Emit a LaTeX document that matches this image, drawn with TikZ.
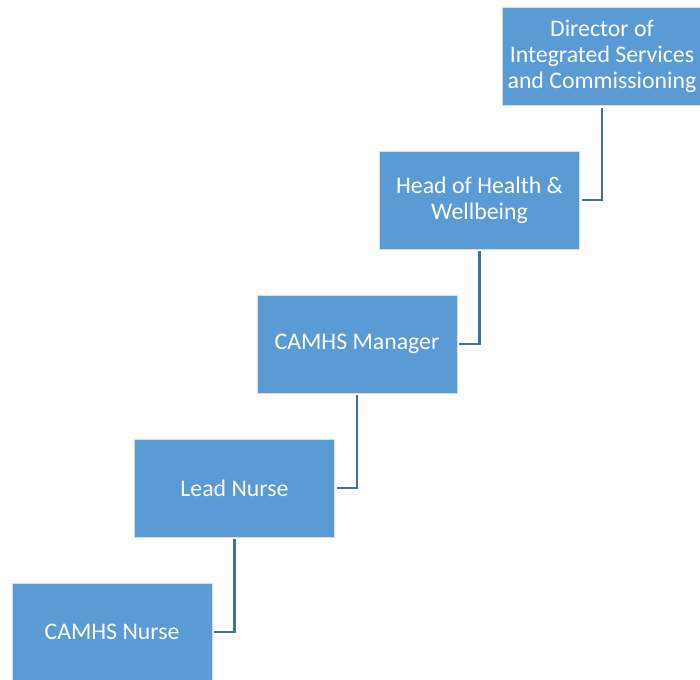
\documentclass[tikz,border=0pt]{standalone}
\usepackage{fontspec}
\setmainfont{Carlito}
\definecolor{boxblue}{HTML}{5B9BD5}
\definecolor{linkblue}{HTML}{41719C}
\begin{document}
\begin{tikzpicture}[x=1pt,y=-1pt,
  rolebox/.style={rectangle, fill=boxblue, draw=white!70!boxblue, line width=0.8pt,
    minimum width=200pt, minimum height=98pt, inner sep=2pt,
    text=white, align=center, font=\fontsize{23.8}{26}\selectfont},
  link/.style={draw=linkblue, line width=2.4pt}]
\clip (0,0) rectangle (700,679);
\fill[white] (0,0) rectangle (700,679);
% reporting chain, top to bottom
\node[rolebox] (dir)  at (602,56.5)  {Director of\\Integrated Services\\and Commissioning};
\node[rolebox] (head) at (479.5,200) {Head of Health \&\\Wellbeing};
\node[rolebox] (mgr)  at (357,344)   {CAMHS Manager};
\node[rolebox] (lead) at (234.5,488) {Lead Nurse};
\node[rolebox] (nurse) at (112,632)  {CAMHS Nurse};
% elbow connectors from each manager down to the report's right side
\draw[link] ([yshift=-2pt]dir.south)  |- ([xshift=2pt]head.east);
\draw[link] ([yshift=-2pt]head.south) |- ([xshift=2pt]mgr.east);
\draw[link] ([yshift=-2pt]mgr.south)  |- ([xshift=2pt]lead.east);
\draw[link] ([yshift=-2pt]lead.south) |- ([xshift=2pt]nurse.east);
\end{tikzpicture}
\end{document}
